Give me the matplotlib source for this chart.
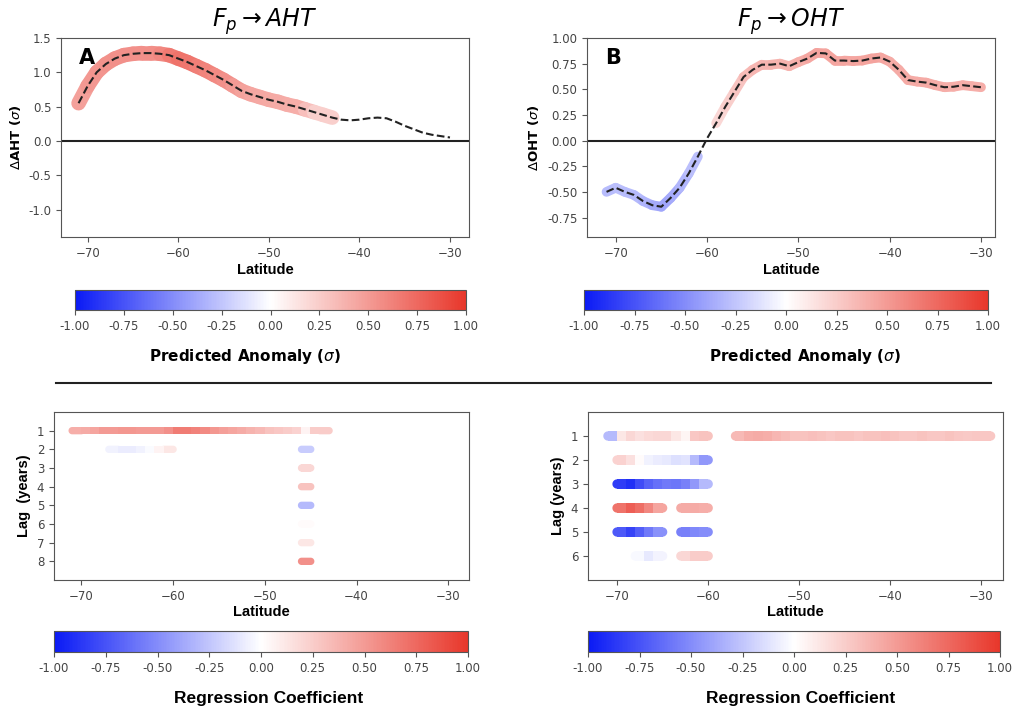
import numpy as np
import matplotlib.pyplot as plt
from matplotlib.colors import LinearSegmentedColormap, Normalize
from matplotlib.cm import ScalarMappable
from matplotlib.collections import LineCollection
from matplotlib.path import Path
from matplotlib.lines import Line2D

# latitude grid of the top panels
lat = np.arange(-71, -29)  # -71 ... -30

# predicted anomaly along latitude (sigma)
aht = [0.55, 0.80, 1.00, 1.12, 1.20, 1.25, 1.27, 1.28, 1.28, 1.27, 1.25, 1.20, 1.15, 1.09,
       1.03, 0.96, 0.89, 0.81, 0.73, 0.68, 0.64, 0.60, 0.57, 0.53, 0.50, 0.46, 0.42, 0.38,
       0.34, 0.31, 0.30, 0.31, 0.33, 0.34, 0.33, 0.28, 0.22, 0.17, 0.12, 0.09, 0.07, 0.05]
oht = [-0.50, -0.46, -0.50, -0.53, -0.59, -0.63, -0.645, -0.56, -0.46, -0.32, -0.155, 0.02,
       0.17, 0.33, 0.475, 0.62, 0.69, 0.74, 0.74, 0.75, 0.725, 0.765, 0.80, 0.855, 0.85, 0.78,
       0.78, 0.775, 0.78, 0.80, 0.81, 0.77, 0.69, 0.59, 0.575, 0.565, 0.54, 0.52, 0.525, 0.54,
       0.53, 0.52]
nan = np.nan
# colour of the significance band (nan = no band)
aht_band = [0.45, 0.50, 0.52, 0.54, 0.55, 0.55, 0.55, 0.55, 0.55, 0.57, 0.62, 0.70, 0.70, 0.66,
            0.62, 0.60, 0.57, 0.53, 0.48, 0.45, 0.44, 0.43, 0.42, 0.42, 0.40, 0.40, 0.24, 0.24,
            0.24, nan, nan, nan, nan, nan, nan, nan, nan, nan, nan, nan, nan, nan]
oht_band = [-0.30, -0.28, -0.28, -0.30, -0.30, -0.35, -0.40, -0.38, -0.34, -0.30, -0.26, nan,
            0.18, 0.22, 0.27, 0.32, 0.36, 0.37, 0.37, 0.38, 0.38, 0.38, 0.42, 0.46, 0.46, 0.44,
            0.44, 0.44, 0.44, 0.46, 0.46, 0.42, 0.42, 0.42, 0.42, 0.42, 0.42, 0.40, 0.40, 0.40,
            0.40, 0.40]

# regression coefficients, F_p -> AHT (one entry per strip)
bl_lags = [1, 2, 2, 3, 4, 5, 6, 7, 8]
bl_lats = [np.arange(-70.5, -43), np.arange(-66.5, -60), [-45.5], [-45.5], [-45.5],
           [-45.5], [-45.5], [-45.5], [-45.5]]
bl_coefs = [[0.40, 0.42, 0.45, 0.50, 0.50, 0.52, 0.52, 0.50, 0.50, 0.50, 0.55, 0.65, 0.65, 0.62,
             0.58, 0.52, 0.48, 0.45, 0.42, 0.38, 0.35, 0.30, 0.28, 0.25, 0.22, 0.06, 0.25, 0.25],
            [-0.06, -0.08, -0.08, -0.06, -0.02, 0.06, 0.12],
            [-0.22], [0.20], [0.30], [-0.30], [0.02], [0.12], [0.55]]

# regression coefficients, F_p -> OHT
br_lags = [1, 1, 2, 3, 4, 4, 5, 5, 6, 6]
br_lats = [np.arange(-70.5, -60), np.arange(-56.5, -29), np.arange(-69.5, -60),
           np.arange(-69.5, -60), np.arange(-69.5, -65), np.arange(-62.5, -60),
           np.arange(-69.5, -65), np.arange(-62.5, -60), np.arange(-67.5, -65),
           np.arange(-62.5, -60)]
br_coefs = [[-0.30, 0.12, 0.20, 0.15, 0.18, 0.20, 0.20, 0.12, 0.05, 0.28, 0.30],
            [0.35, 0.40, 0.42, 0.40, 0.36, 0.33, 0.30, 0.30, 0.32, 0.30, 0.28, 0.30, 0.30, 0.28,
             0.30, 0.30, 0.32, 0.30, 0.28, 0.28, 0.30, 0.28, 0.28, 0.30, 0.28, 0.27, 0.28, 0.28],
            [0.22, 0.15, 0.02, -0.06, -0.08, -0.10, -0.14, -0.12, -0.30, -0.45],
            [-0.85, -0.90, -0.78, -0.68, -0.62, -0.58, -0.60, -0.55, -0.45, -0.30],
            [0.70, 0.80, 0.72, 0.60, 0.45], [0.42, 0.42, 0.40],
            [-0.72, -0.82, -0.70, -0.58, -0.48], [-0.55, -0.52, -0.50],
            [-0.03, -0.10, -0.05], [0.20, 0.25, 0.25]]

cbar_ticks = [-1.0, -0.75, -0.5, -0.25, 0.0, 0.25, 0.5, 0.75, 1.0]

cmap = LinearSegmentedColormap.from_list('bwr2', ['#0a1af5', '#ffffff', '#e8372b'])
norm = Normalize(-1, 1)
W, H = 1019, 716
TICK_C = '#444444'
SPINE_C = '#555555'


def box(l, t, r, b):
    return [l / W, 1 - b / H, (r - l) / W, (b - t) / H]


def stadium(ratio):
    t = np.linspace(-np.pi / 2, np.pi / 2, 24)
    c = 1 - ratio
    right = np.column_stack([c + ratio * np.cos(t), ratio * np.sin(t)])
    left = np.column_stack([-c - ratio * np.cos(t), -ratio * np.sin(t)])
    return Path(np.vstack([right, left, right[:1]]), closed=True)


def rectangle(ratio):
    return Path([(-1, -ratio), (1, -ratio), (1, ratio), (-1, ratio), (-1, -ratio)], closed=True)


def style(ax):
    for s in ax.spines.values():
        s.set_color(SPINE_C)
    ax.tick_params(labelsize=8.5, colors=SPINE_C, labelcolor=TICK_C)


def add_cbar(rect, label, lx, ly, lfont, lsize):
    cax = fig.add_axes(rect)
    cb = fig.colorbar(ScalarMappable(norm=norm, cmap=cmap), cax=cax, orientation='horizontal')
    cb.set_ticks(cbar_ticks)
    cb.set_ticklabels(['%.2f' % v for v in cbar_ticks])
    cb.outline.set_edgecolor(SPINE_C)
    cax.tick_params(labelsize=8.5, colors=SPINE_C, labelcolor=TICK_C)
    fig.text(lx / W, 1 - ly / H, label, ha='center', va='center', fontsize=lsize,
             fontweight='bold', family=lfont)


def strips(ax, lags, lats, coefs, px_w, h_px):
    # each run: rounded ends, flat colour steps of one degree
    x0, x1 = ax.get_xlim()
    deg_pt = px_w / (x1 - x0) * 0.72
    h_pt = h_px * 0.72
    rw = deg_pt * 1.06
    rect = rectangle(h_pt / rw)
    stad = stadium(h_pt / (deg_pt + h_pt))
    for lag, la, co in zip(lags, lats, coefs):
        la = np.asarray(la, float)
        co = np.asarray(co, float)
        ends = [0, len(la) - 1] if len(la) > 1 else [0]
        ax.scatter(la[ends], [lag] * len(ends), c=co[ends], cmap=cmap, norm=norm, marker=stad,
                   s=(deg_pt + h_pt) ** 2, edgecolors='none', linewidths=0, zorder=2)
        ax.scatter(la, [lag] * len(la), c=co, cmap=cmap, norm=norm, marker=rect,
                   s=rw ** 2, edgecolors='none', linewidths=0, zorder=3)


fig = plt.figure(figsize=(W / 100, H / 100), dpi=100)

# ---- top panels ----
tops = [
    (box(61, 38, 469, 237), aht, aht_band, 10.5, r'$F_p \rightarrow AHT$', r'$\Delta$AHT ($\sigma$)',
     'A', (-72.94, -27.9), (-1.4, 1.5), [-1.0, -0.5, 0.0, 0.5, 1.0, 1.5], '%.1f'),
    (box(587, 38, 995, 237), oht, oht_band, 7.0, r'$F_p \rightarrow OHT$', r'$\Delta$OHT ($\sigma$)',
     'B', (-73.14, -28.47), (-0.94, 1.0), [-0.75, -0.5, -0.25, 0.0, 0.25, 0.5, 0.75, 1.0], '%.2f'),
]
for rect, vals, band, bw, title, ylab, tag, xl, yl, yt, fmt in tops:
    ax = fig.add_axes(rect)
    ax.set_xlim(*xl)
    ax.set_ylim(*yl)
    pts = np.column_stack([lat, vals])
    band = np.asarray(band)
    segs, cols = [], []
    for i in range(len(lat) - 1):
        if not (np.isnan(band[i]) or np.isnan(band[i + 1])):
            segs.append(pts[i:i + 2])
            cols.append(cmap(norm((band[i] + band[i + 1]) / 2)))
    ax.add_collection(LineCollection(segs, colors=cols, linewidths=bw, capstyle='round',
                                     joinstyle='round', zorder=2))
    ax.plot(lat, vals, '--', color='#222222', lw=1.5, zorder=3)
    ax.axhline(0, color='#222222', lw=1.5, zorder=1)
    ax.set_xticks([-70, -60, -50, -40, -30])
    ax.set_yticks(yt)
    ax.set_yticklabels([fmt % v for v in yt])
    ax.set_title(title, fontsize=17, pad=8)
    ax.set_ylabel(ylab, fontsize=9.5, fontweight='bold')
    ax.set_xlabel('Latitude', fontsize=10.5, fontweight='bold', family='Liberation Sans', labelpad=2)
    ax.text(0.045, 0.87, tag, transform=ax.transAxes, fontsize=15, fontweight='bold')
    style(ax)

add_cbar(box(75, 290, 466, 310), r'Predicted Anomaly ($\sigma$)', 245, 357, 'DejaVu Sans', 11)
add_cbar(box(584, 290, 988, 310), r'Predicted Anomaly ($\sigma$)', 805, 357, 'DejaVu Sans', 11)

# separator between the two halves
fig.add_artist(Line2D([56 / W, 991 / W], [1 - 383 / H, 1 - 383 / H], color='#222222', lw=1.5))

# ---- bottom panels ----
bots = [
    (box(54, 412, 469, 580), 415, bl_lags, bl_lats, bl_coefs, (-72.98, -27.75), 9, 'Lag  (years)', 7.3),
    (box(588, 412, 1003, 580), 415, br_lags, br_lats, br_coefs, (-73.19, -27.64), 7, 'Lag (years)', 9.3),
]
for rect, px_w, lags, lats, coefs, xl, nlag, ylab, h_px in bots:
    ax = fig.add_axes(rect)
    ax.set_xlim(*xl)
    ax.set_ylim(nlag, 0)
    strips(ax, lags, lats, coefs, px_w, h_px)
    ax.set_yticks(range(1, nlag))
    ax.set_xticks([-70, -60, -50, -40, -30])
    ax.set_ylabel(ylab, fontsize=10.5, fontweight='bold', family='Liberation Sans')
    ax.set_xlabel('Latitude', fontsize=10.5, fontweight='bold', family='Liberation Sans', labelpad=2)
    style(ax)

add_cbar(box(54, 631, 468, 652), 'Regression Coefficient', 269, 698, 'Liberation Sans', 12.5)
add_cbar(box(588, 631, 1000, 652), 'Regression Coefficient', 801, 698, 'Liberation Sans', 12.5)

fig.savefig('out.png', dpi=100)
